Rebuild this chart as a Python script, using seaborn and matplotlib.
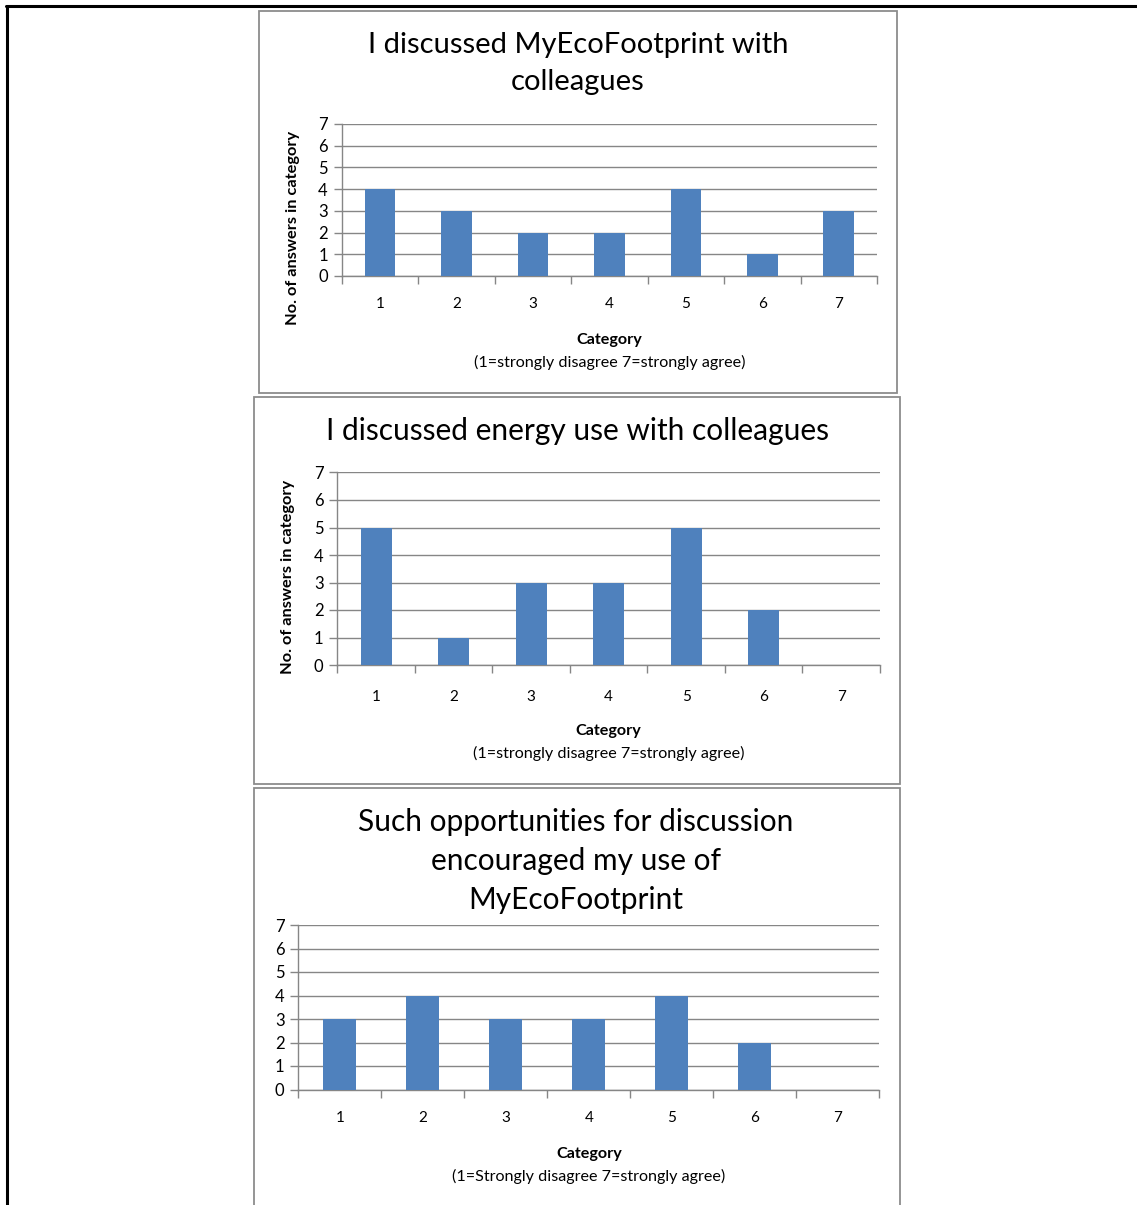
import numpy as np
import pandas as pd
import matplotlib
matplotlib.use('Agg')
import matplotlib.pyplot as plt
import seaborn as sns
from matplotlib.patches import Rectangle
from matplotlib.lines import Line2D

# data
categories = ['1', '2', '3', '4', '5', '6', '7']
myeco_counts = [4, 3, 2, 2, 4, 1, 3]
energy_counts = [5, 1, 3, 3, 5, 2, 0]
encouraged_counts = [3, 4, 3, 3, 4, 2, 0]

titles = ['I discussed MyEcoFootprint with\ncolleagues',
          'I discussed energy use with colleagues',
          'Such opportunities for discussion\nencouraged my use of\nMyEcoFootprint']
subtitles = ['(1=strongly disagree 7=strongly agree)',
             '(1=strongly disagree 7=strongly agree)',
             '(1=Strongly disagree 7=strongly agree)']
ylabel = 'No. of answers in category'

sns.set_theme(style='white')
plt.rcParams['font.family'] = ['Lato', 'DejaVu Sans']

W, H = 1137, 1205
fig = plt.figure(figsize=(W / 100, H / 100), dpi=100)
fig.patch.set_facecolor('white')

BAR = '#4F81BD'
GRID = '#868686'


def fx(px):
    return px / W


def fy(py):
    return 1 - py / H


# outer table borders
fig.add_artist(Line2D([fx(6), fx(1137)], [fy(6), fy(6)], color='black', lw=2.2))
fig.add_artist(Line2D([fx(7), fx(7)], [fy(6), fy(1205)], color='black', lw=2.2))

# chart frames (left, top, right, bottom) in pixels
frames = [(259, 11, 897, 393), (254, 397, 900, 784), (254, 788, 900, 1260)]
for l, t, r, b in frames:
    fig.add_artist(Rectangle((fx(l), fy(b)), fx(r) - fx(l), fy(t) - fy(b),
                             fill=False, edgecolor='#8C8C8C', lw=1.3))

# plot areas (left, top=value 7, right, bottom=value 0)
areas = [(341.7, 124, 877, 276), (337.3, 472.5, 880, 665), (298.3, 925, 879.3, 1089.5)]
series = [myeco_counts, energy_counts, encouraged_counts]

title_y = [(44 + 83) / 2, 431, 861]
title_x = [578, 577, 576]
title_size = [21, 21.5, 21.5]
ticklab_y = [304, 696, 1118]
cat_y = [340, 731, 1154]
sub_y = [362, 753, 1176]
ylab_pos = [(293, 228), (288, 577), None]

for i in range(3):
    l, t, r, b = areas[i]
    ax = fig.add_axes([fx(l), fy(b), fx(r) - fx(l), fy(t) - fy(b)])
    df = pd.DataFrame({'Category': categories, 'Count': series[i]})
    sns.barplot(data=df, x='Category', y='Count', color=BAR, width=0.4,
                saturation=1, linewidth=0, ax=ax, zorder=3)
    ax.set_xlim(-0.5, 6.5)
    ax.set_ylim(0, 7)
    ax.set_yticks(range(8))
    ax.yaxis.grid(True, color=GRID, lw=1, zorder=0)
    ax.set_axisbelow(True)
    for s in ['top', 'right']:
        ax.spines[s].set_visible(False)
    for s in ['left', 'bottom']:
        ax.spines[s].set_color(GRID)
        ax.spines[s].set_linewidth(1)
    ax.set_xticks(np.arange(-0.5, 7, 1), minor=True)
    ax.tick_params(axis='x', which='major', length=0, labelsize=11,
                   pad=(ticklab_y[i] - b) - 13, labelcolor='black')
    ax.tick_params(axis='x', which='minor', length=6, width=1, color=GRID,
                   direction='out', bottom=True)
    ax.tick_params(axis='y', length=6, width=1, color=GRID, direction='out',
                   left=True, labelsize=12, pad=4, labelcolor='black')
    ax.set_xlabel('')
    ax.set_ylabel('')

    fig.text(fx(title_x[i]), fy(title_y[i]), titles[i], ha='center', va='center',
             fontsize=title_size[i], linespacing=1.49, color='black')
    cx = (l + r) / 2
    fig.text(fx(cx), fy(cat_y[i]), 'Category', ha='center', va='center',
             fontsize=11.6, fontweight='bold', color='black')
    fig.text(fx(cx), fy(sub_y[i]), subtitles[i], ha='center', va='center',
             fontsize=11.6, color='black')
    if ylab_pos[i] is not None:
        px, py = ylab_pos[i]
        fig.text(fx(px), fy(py), ylabel, rotation=90,
                 ha='center', va='center', fontsize=11.8, fontweight='bold',
                 color='black')

fig.savefig('out.png', dpi=100, facecolor='white')
